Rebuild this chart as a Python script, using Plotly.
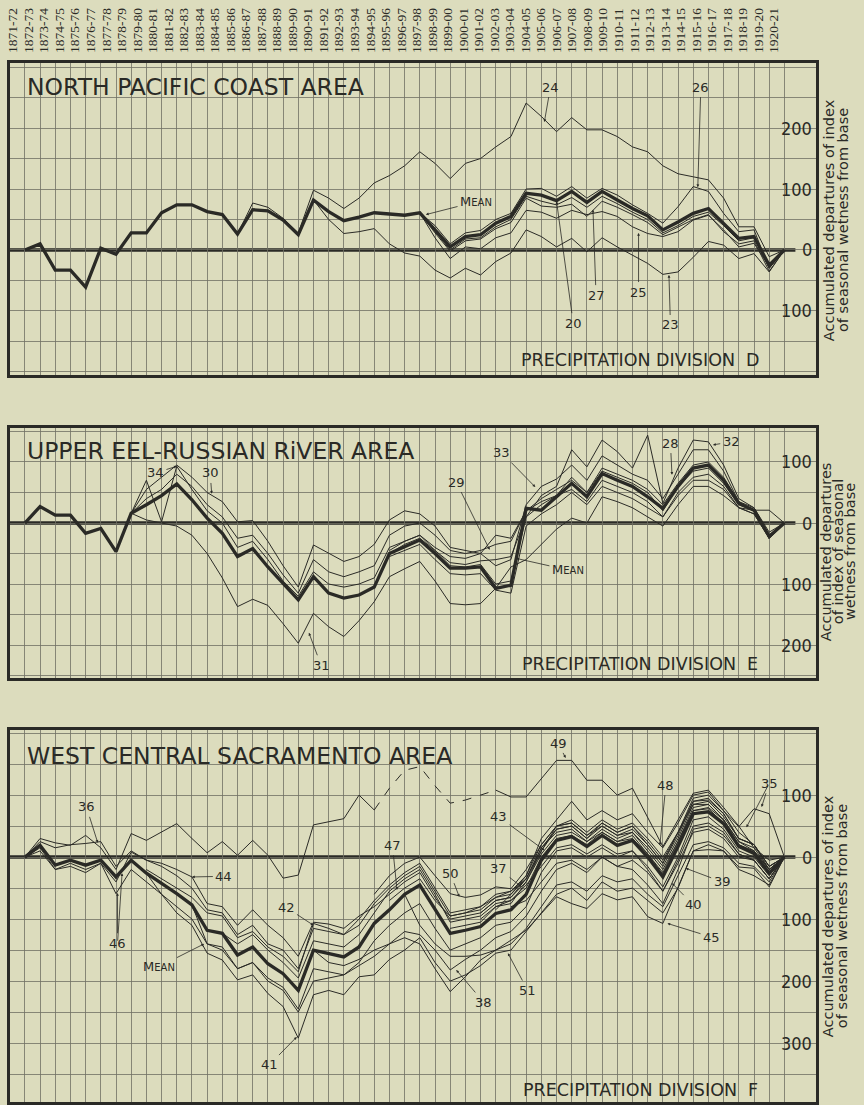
import plotly.graph_objects as go

# ---------------- data ----------------
SEASONS = ["1871-72", "1872-73", "1873-74", "1874-75", "1875-76", "1876-77", "1877-78", "1878-79",
           "1879-80", "1880-81", "1881-82", "1882-83", "1883-84", "1884-85", "1885-86", "1886-87",
           "1887-88", "1888-89", "1889-90", "1890-91", "1891-92", "1892-93", "1893-94", "1894-95",
           "1895-96", "1896-97", "1897-98", "1898-99", "1899-00", "1900-01", "1901-02", "1902-03",
           "1903-04", "1904-05", "1905-06", "1906-07", "1907-08", "1908-09", "1909-10", "1910-11",
           "1911-12", "1912-13", "1913-14", "1914-15", "1915-16", "1916-17", "1917-18", "1918-19",
           "1919-20", "1920-21"]
SEASON_POS = list(range(1, 51))          # label slots of the season header
X = list(range(51))                      # base point + end of each season

# Division D
D_MEAN = [0, 10, -33, -33, -61, 3, -7, 28, 28, 61, 74, 74, 63, 58, 26, 66, 64, 49, 25, 82, 63, 48, 54, 61, 59,
          57, 61, 33, 5, 22, 25, 44, 55, 93, 90, 81, 96, 78, 96, 82, 68, 56, 33, 46, 60, 68, 44, 19, 22, -25, 0]
D_24 = [None] * 14 + [26, 77, 70, 52, 28, 98, 85, 68, 85, 110, 122, 138, 161, 142, 117, 142, 150, 169, 186, 241,
                      219, 194, 217, 197, 197, 186, 169, 161, 138, 125, 120, 115, 85, 38, 38, -11, 0]
D_26 = [None] * 26 + [61, 40, 10, 28, 32, 50, 60, 100, 101, 88, 104, 85, 101, 90, 74, 60, 44, 71, 104, 96, 60, 30, 33, -30, 0]
D_20 = [None] * 26 + [61, 30, 0, 18, 20, 38, 50, 88, 80, 74, 86, 70, 88, 76, 62, 50, 28, 40, 55, 62, 40, 15, 20, -30, 0]
D_27 = [None] * 26 + [61, 28, -2, 15, 18, 35, 45, 85, 72, 70, 75, 55, 80, 70, 58, 45, 25, 38, 50, 58, 30, 10, 15, -35, 0]
D_25 = [None] * 26 + [61, 20, -14, 5, 2, 20, 28, 65, 62, 52, 65, 58, 63, 55, 38, 27, 22, 30, 49, 57, 33, 5, 11, -27, 0]
D_23 = [None] * 19 + [82, 50, 27, 30, 35, 10, -5, -10, -33, -46, -30, -41, -19, -5, 33, 22, 5, 19, -3, 20, 5, -8,
                      -22, -40, -36, -12, 14, 8, -14, -6, -36, 0]

# Division E
E_MEAN = [0, 27, 13, 13, -17, -9, -47, 16, 30, 45, 64, 38, 8, -17, -55, -42, -72, -99, -126, -88, -115, -123, -118,
          -105, -50, -39, -28, -50, -74, -74, -72, -107, -102, 24, 21, 43, 65, 43, 81, 70, 60, 43, 24, 60, 90, 95,
          70, 32, 21, -22, 0]
E_30 = [None] * 7 + [16, 55, 75, 95, 75, 50, 35, 2, 4, -30, -70, -105, -36, -50, -63, -55, -35, 5, 20, 15, -5, -40,
                     -45, -50, -20, -25, 20, 35, 45, 75, 50, 90, 80, 70, 55, 30, 65, 95, 100, 75, 35, 25, -15, 0]
E_29 = [None] * 7 + [16, 40, 55, 80, 60, 30, 10, -25, -20, -50, -85, -115, -60, -80, -88, -80, -70, -20, -5, 0, -20,
                     -45, -50, -45, -35, -30, 20, 40, 55, 70, 50, 85, 75, 65, 50, 20, 60, 85, 90, 65, 30, 20, -25, 0]
E_34 = [None] * 7 + [16, 70, 2, 93, 55, 20, 0, -40, -30, -60, -95, -120, -80, -100, -105, -100, -90, -40, -30, -20,
                     -45, -65, -68, -62, -60, -55, 10, 30, 45, 55, 35, 70, 60, 50, 35, 10, 50, 75, 80, 60, 25, 15, -25, 0]
E_31 = [None] * 7 + [16, 5, 0, -5, -20, -50, -90, -137, -125, -135, -165, -197, -148, -170, -186, -160, -129, -88,
                     -75, -63, -95, -132, -134, -132, -107, -72, -60, -35, -10, 8, 0, 43, 35, 25, 10, -5, 30, 60, 60,
                     45, 25, 21, 21, 0]
E_32 = [None] * 24 + [-50, -35, -25, -45, -70, -72, -68, -100, -95, 10, 45, 60, 120, 92, 136, 117, 90, 144, 32, 90,
                      136, 133, 95, 40, 25, -20, 0]
E_28 = [None] * 24 + [-55, -45, -35, -60, -83, -85, -83, -110, -115, -5, 15, 30, 50, 30, 60, 50, 40, 25, 10, 45, 70,
                      70, 55, 25, 15, -25, 0]
E_33 = [None] * 24 + [-45, -30, -20, -40, -55, -58, -50, -70, -60, 30, 60, 72, 95, 70, 110, 95, 80, 70, 40, 80, 120,
                      120, 85, 35, 20, -20, 0]

# Division F
F_MEAN = [0, 19, -13, -5, -13, -5, -32, -5, -26, -42, -59, -77, -118, -123, -158, -145, -172, -188, -215, -150, -155,
          -161, -145, -107, -85, -60, -45, -85, -123, -118, -112, -91, -85, -60, -5, 27, 33, 17, 35, 19, 27, 0, -32,
          17, 70, 73, 54, 17, 6, -26, 0]
F_49 = [0, 30, 23, 19, 35, 15, -20, 38, 27, 40, 54, 30, 7, 25, 3, 27, 3, -34, -29, 52, 57, 62, 100, 76] + [None] * 7 + \
       [108, 97, 97, 127, 156, 156, 124, 124, 100, 111, 65, 17, 60, 103, 108, 80, 50, 15, -5, 0]
F_49_EST = [None] * 23 + [76, 111, 140, 146, 115, 87, 92, 100, 108] + [None] * 19
F_35 = [None] * 30 + [-90, -70, -65, -35, 10, 45, 50, 30, 55, 40, 50, 20, -10, 40, 95, 100, 75, 49, 78, 70, 0]
F_45 = [None] * 19 + [-150, -170, -175, -165, -150, -140, -130, -140, -180, -217, -193, -166, -150, -135, -118, -91,
                      -64, -75, -83, -59, -69, -64, -96, -107, -50, 10, 12, 10, -16, -18, -48, 0]
F_38 = [None] * 11 + [-77, -140, -145, -180, -170, -200, -215, -250, -200, -195, -190, -175, -160, -140, -120, -125,
                      -150, -182, -165, -150, -130, -120, -95, -55, -20, -10, -25, 0, -15, -5, -25, -55, -10, 40, 45,
                      30, 0, -5, -35, 0]
F_51 = [None] * 25 + [-60, -110, -140, -160, -160, -158, -150, -140, -115, -80, -45, -40, -55, -30, -40, -35, -60,
                      -80, -30, 20, 25, 15, -10, -15, -40, 0]
F_50 = [None] * 23 + [-60, -30, -10, 0, -30, -59, -65, -61, -48, -51, -20, 20, 50, 60, 40, 60, 45, 55, 30, 0, 40, 85,
                      90, 65, 30, 20, -15, 0]
F_37 = [None] * 24 + [-70, -50, -35, -70, -95, -90, -80, -65, -55, -35, 15, 40, 45, 25, 45, 30, 40, 10, -20, 25, 80,
                      85, 60, 25, 10, -20, 0]
F_43 = [None] * 28 + [-115, -110, -105, -80, -75, -40, 10, 50, 55, 35, 50, 35, 40, 15, -15, 30, 85, 85, 60, 25, 15,
                      -20, 0]
F_48 = [None] * 31 + [-85, -60, -30, 30, 60, 90, 60, 75, 60, 70, 40, 15, 55, 100, 105, 75, 40, 20, -15, 0]
F_40 = [None] * 30 + [-100, -80, -70, -45, -15, 15, 20, 5, 20, 5, 10, -15, -48, 0, 60, 65, 45, 10, 0, -30, 0]
F_39 = [None] * 32 + [-80, -70, -40, -10, -5, -20, 0, -15, -20, -45, -75, -20, 45, 50, 35, 5, -5, -35, 0]
F_36 = [0, 25, 15, 20, 22, 25, -15, 10, -5, -15, -30, -50, -85, -90, -125, -110, -140, -150, -180, -115, -120, -125,
        -110, -75, -50, -30, -15, -55, -95, -90, -85, -65, -60, -35, 15, 45, 50, 30, 50, 35, 45, 20, -10, 35, 90, 92,
        70, 30, 20, -15, 0]
F_44 = [0, 10, -20, -10, -20, -10, -40, 8, -5, -10, -20, -32, -75, -80, -110, -85, -110, -130, -160, -105, -108, -115,
        -95, -80, -60, -40, -25, -65, -100, -95, -90, -70, -65, -40, 5, 35, 40, 25, 40, 25, 35, 5, -25, 25, 75, 80, 60,
        20, 10, -20, 0]
F_42 = [None] * 8 + [-20, -35, -50, -65, -90, -95, -130, -120, -145, -160, -185, -107, -115, -125, -100, -70, -45, -25,
                     -10, -50, -90, -85, -80, -60, -55, -30, 20, 50, 55, 35, 55, 40, 50, 25, -5, 40, 90, 95, 70, 30,
                     20, -20, 0]
F_46 = [0, 15, -20, -15, -25, -10, -59, -20, -40, -60, -80, -100, -140, -150, -180, -170, -195, -210, -245, -180, -185,
        -190, -170, -135, -110, -90, -75, -115, -150, -140, -130, -110, -105, -80, -25, 10, 15, 0, 15, 0, 10, -20, -55,
        -5, 50, 55, 40, 5, -5, -35, 0]
F_47 = [None] * 13 + [-123, -140, -125, -150, -170, -195, -135, -140, -145, -125, -90, -55, -35, -20, -60, -105, -100,
                      -95, -75, -70, -50, 0, 30, 35, 20, 40, 25, 30, 5, -28, 20, 75, 78, 55, 20, 8, -25, 0]
F_41 = [None] * 8 + [-26, -60, -90, -110, -155, -166, -198, -190, -220, -241, -292, -222, -215, -222, -193, -190, -165,
                     -150, -130, -170, -200, -190, -175, -155, -150, -120, -90, -60, -50, -70, -40, -55, -50, -70, -90,
                     -50, 10, 20, 10, -20, -30, -45, 0]

D_TICKS = [200, 100, 0, -100]
E_TICKS = [100, 0, -100, -200]
F_TICKS = [100, 0, -100, -200, -300]

# ---------------- styling / layout geometry ----------------
W, H = 864, 1105
BG = "#dcdcbd"
INK = "#2a2a26"
GRID = "#707064"
XR = [-0.98, 52.1]
XL, XRPX = 5, 816
PANELS = {
    "D": dict(top=63, bot=375, r=(-205, 306.6), xa="x", ya="y"),
    "E": dict(top=428, bot=678, r=(-254, 155.7), xa="x2", ya="y2"),
    "F": dict(top=730, bot=1102, r=(-395, 205), xa="x3", ya="y3"),
}


def xp(px):  # pixel -> x data
    return XR[0] + (px - XL) / (XRPX - XL) * (XR[1] - XR[0])


def yv(k, py):  # pixel -> y data in panel k
    P = PANELS[k]
    r0, r1 = P["r"]
    return r1 - (py - P["top"]) / (P["bot"] - P["top"]) * (r1 - r0)


fig = go.Figure()


def add_panel(k, stations, mean, dashed=None):
    P = PANELS[k]
    for name, vals in stations:
        fig.add_trace(go.Scatter(x=X, y=vals, xaxis=P["xa"], yaxis=P["ya"], mode="lines", name=name,
                                 line=dict(color=INK, width=1), hoverinfo="skip", showlegend=False))
    if dashed:
        for name, vals in dashed:
            fig.add_trace(go.Scatter(x=X, y=vals, xaxis=P["xa"], yaxis=P["ya"], mode="lines", name=name,
                                     line=dict(color=INK, width=1, dash="dash"), hoverinfo="skip", showlegend=False))
    fig.add_trace(go.Scatter(x=X, y=mean, xaxis=P["xa"], yaxis=P["ya"], mode="lines", name="Mean " + k,
                             line=dict(color=INK, width=3.3), hoverinfo="skip", showlegend=False))


add_panel("D", [("20", D_20), ("23", D_23), ("24", D_24), ("25", D_25), ("26", D_26), ("27", D_27)], D_MEAN)
add_panel("E", [("28", E_28), ("29", E_29), ("30", E_30), ("31", E_31), ("32", E_32), ("33", E_33), ("34", E_34)], E_MEAN)
add_panel("F", [("35", F_35), ("36", F_36), ("37", F_37), ("38", F_38), ("39", F_39), ("40", F_40), ("41", F_41),
                ("42", F_42), ("43", F_43), ("44", F_44), ("45", F_45), ("46", F_46), ("47", F_47), ("48", F_48),
                ("49", F_49), ("50", F_50), ("51", F_51)], F_MEAN, dashed=[("49 est.", F_49_EST)])

# dummy trace for the season header axis
fig.add_trace(go.Scatter(x=[None], y=[None], xaxis="x4", yaxis="y", showlegend=False, hoverinfo="skip"))

xdom = [XL / W, XRPX / W]
layout_axes = {}
for i, k in enumerate(["D", "E", "F"]):
    P = PANELS[k]
    sx = "" if i == 0 else str(i + 1)
    r0, r1 = P["r"]
    grid_y = [v for v in range(-400, 350, 50) if r0 < v < r1]
    layout_axes["xaxis" + sx] = dict(domain=xdom, range=XR, anchor="y" + sx, tickvals=X, showticklabels=False,
                                     showgrid=True, gridcolor=GRID, gridwidth=0.8, zeroline=False, ticks="",
                                     showline=True, mirror=True, linewidth=3, linecolor=INK, fixedrange=True)
    layout_axes["yaxis" + sx] = dict(domain=[1 - P["bot"] / H, 1 - P["top"] / H], range=list(P["r"]),
                                     anchor="x" + sx, tickvals=grid_y, showticklabels=False, showgrid=True,
                                     gridcolor=GRID, gridwidth=0.8, zeroline=False, ticks="", showline=True,
                                     mirror=True, linewidth=3, linecolor=INK, fixedrange=True)

# season header axis (labels typeset at a slightly wider pitch than the grid)
lab0, lab_step = 8.0, 15.62
layout_axes["xaxis4"] = dict(overlaying="x", anchor="y", side="top", domain=xdom,
                             range=[1 + (XL - lab0) / lab_step, 1 + (XRPX - lab0) / lab_step],
                             tickvals=SEASON_POS, ticktext=SEASONS, tickangle=-90, showgrid=False, showline=False,
                             zeroline=False, ticks="", ticklabelstandoff=9, fixedrange=True,
                             tickfont=dict(family="Liberation Serif, DejaVu Serif, serif", size=13.5, color=INK))

fig.update_layout(width=W, height=H, autosize=False, margin=dict(l=0, r=0, t=0, b=0),
                  paper_bgcolor=BG, plot_bgcolor=BG, hovermode=False, showlegend=False, **layout_axes)

shapes = []
annos = []
SANS = "DejaVu Sans, Verdana, sans-serif"
NARROW = "Liberation Sans Narrow, DejaVu Sans Condensed, Liberation Sans, Arial, sans-serif"


def blank(k, x0px, x1px, y0px, y1px):
    P = PANELS[k]
    shapes.append(dict(type="rect", xref=P["xa"], yref=P["ya"], x0=xp(x0px), x1=xp(x1px),
                       y0=yv(k, y0px), y1=yv(k, y1px), fillcolor=BG, line=dict(width=0), layer="below"))


TITLES = {"D": ("NORTH PACIFIC COAST AREA", 372, 87, 77, 96),
          "E": ("UPPER EEL-RUSSIAN RiVER AREA", 425, 451, 441, 461),
          "F": ("WEST CENTRAL SACRAMENTO AREA", 455, 756, 746, 763)}
BOX_Y = {"D": (342.5, 375), "E": (647, 678), "F": (1076, 1102)}
DIVS = {"D": "D", "E": "E", "F": "F"}
YT = {"D": (["Accumulated departures of index", "of seasonal wetness from base"], [829, 843], 220),
      "E": (["Accumulated departures", "of index of seasonal", "wetness from base"], [826, 838, 850], 552),
      "F": (["Accumulated departures of index", "of seasonal wetness from base"], [828, 842], 916)}
TICKS = {"D": D_TICKS, "E": E_TICKS, "F": F_TICKS}

for k in ["D", "E", "F"]:
    P = PANELS[k]
    # zero (base) line
    shapes.append(dict(type="line", xref=P["xa"], yref=P["ya"], x0=XR[0], x1=xp(795), y0=0, y1=0,
                       line=dict(color=INK, width=3.5), layer="below"))
    # title
    t, x1px, cy, y0px, y1px = TITLES[k]
    blank(k, 21.5, x1px, y0px, y1px)
    annos.append(dict(xref="paper", yref="paper", x=20 / W, y=1 - cy / H, xanchor="left", yanchor="middle",
                      text=t, showarrow=False, font=dict(family=SANS, size=23.5, color=INK)))
    # division box
    by0, by1 = BOX_Y[k]
    blank(k, 511, 768.5, by0, by1 + 3)
    annos.append(dict(xref="paper", yref="paper", x=639 / W, y=1 - ((by0 + by1) / 2 + 1) / H, xanchor="center",
                      yanchor="middle", showarrow=False,
                      text="PRECIPITATION DIVISION  " + DIVS[k],
                      font=dict(family=SANS, size=17.5, color=INK)))
    # right-hand scale labels
    for v in TICKS[k]:
        ypx = P["top"] + (P["r"][1] - v) / (P["r"][1] - P["r"][0]) * (P["bot"] - P["top"])
        blank(k, 787 if v != 0 else 797, 820, ypx - 8, ypx + 8)
        annos.append(dict(xref="paper", yref=P["ya"], x=814 / W, y=v, xanchor="right", yanchor="middle",
                          text=str(abs(v)), showarrow=False, font=dict(family=NARROW, size=18, color=INK)))
    # axis title (rotated, outside frame)
    lines, xs, cy = YT[k]
    for line, xpx in zip(lines, xs):
        annos.append(dict(xref="paper", yref="paper", x=xpx / W, y=1 - cy / H, xanchor="center",
                          yanchor="middle", textangle=-90, text=line, showarrow=False,
                          font=dict(family=SANS, size=14.5, color=INK)))

MEAN_TXT = "M<span style='font-size:10px'>EAN</span>"
# (panel, text, head (x, y), tail (x, y)) in data coordinates
LABELS = [
    ("D", "24", (34.2, 210), (34.6, 267)),
    ("D", "26", (44.3, 103), (44.5, 267)),
    ("D", "20", (35.0, 80), (36.1, -120)),
    ("D", "27", (37.4, 66), (37.6, -74)),
    ("D", "25", (40.4, 28), (40.4, -69)),
    ("D", "23", (42.4, -41), (42.5, -123)),
    ("D", MEAN_TXT, (26.4, 58), (29.7, 79)),
    ("E", "34", (10.0, 93), (8.6, 82)),
    ("E", "30", (12.3, 48), (12.2, 82)),
    ("E", "33", (33.6, 59), (31.4, 115)),
    ("E", "29", (30.6, -44), (28.4, 67)),
    ("E", "31", (18.7, -180), (19.5, -233)),
    ("E", "28", (42.6, 79), (42.5, 131)),
    ("E", "32", (45.3, 128), (46.5, 133)),
    ("E", MEAN_TXT, (32.35, -58), (35.75, -77)),
    ("F", "36", (4.8, 23), (4.05, 81)),
    ("F", "46", (6.1, -58), (6.1, -139)),
    ("F", "", (6.4, -26), (6.1, -139)),
    ("F", "44", (11.0, -32), (13.1, -31)),
    ("F", "42", (19.0, -110), (17.2, -81)),
    ("F", "41", (17.9, -290), (16.1, -335)),
    ("F", "47", (24.5, -53), (24.2, 19)),
    ("F", "50", (28.6, -64), (28.0, -26)),
    ("F", "37", (32.7, -48), (31.2, -19)),
    ("F", "38", (28.4, -182), (30.2, -234)),
    ("F", "51", (31.8, -155), (33.1, -215)),
    ("F", "43", (34.2, 11), (31.2, 65)),
    ("F", "49", (35.6, 160), (35.1, 184)),
    ("F", "48", (41.8, 19), (42.2, 116)),
    ("F", "40", (42.6, -42), (44.0, -77)),
    ("F", "39", (43.5, -18), (45.9, -40)),
    ("F", "45", (42.3, -107), (45.2, -129)),
    ("F", "35", (48.5, 81), (49.0, 119)),
    ("F", "", (47.5, 48), (49.0, 119)),
    ("F", MEAN_TXT, (11.8, -140), (8.8, -177)),
]
for k, txt, head, tail in LABELS:
    P = PANELS[k]
    annos.append(dict(xref=P["xa"], yref=P["ya"], axref=P["xa"], ayref=P["ya"], x=head[0], y=head[1],
                      ax=tail[0], ay=tail[1], text=txt, showarrow=True, arrowhead=2, arrowsize=0.7,
                      arrowwidth=0.8, arrowcolor=INK, standoff=0, startstandoff=1,
                      font=dict(family=SANS, size=13, color=INK)))

fig.update_layout(shapes=shapes, annotations=annos)
fig.write_html("out.html", config={"displayModeBar": False, "staticPlot": True},
               post_script="document.body.style.margin='0px';document.body.style.overflow='hidden';")
